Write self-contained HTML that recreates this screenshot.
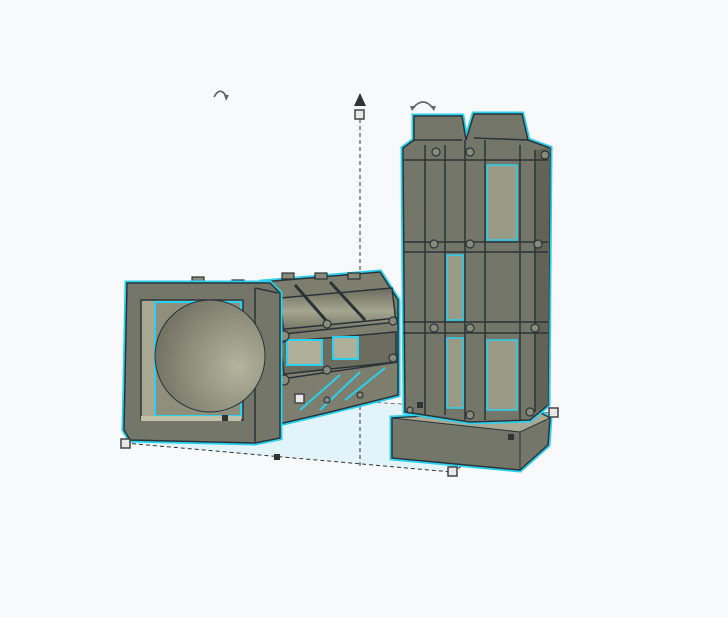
<!DOCTYPE html>
<html><head><meta charset="utf-8"><style>
html,body{margin:0;padding:0;background:#f8f9fa;}
svg{display:block;}
</style></head><body>
<svg width="728" height="617" viewBox="0 0 728 617" xmlns="http://www.w3.org/2000/svg">
<defs>
<radialGradient id="tun" cx="0.75" cy="0.6" r="0.8">
<stop offset="0" stop-color="#b4b59e"/><stop offset="1" stop-color="#6e6f60"/>
</radialGradient>
<linearGradient id="cyl" x1="0" y1="0" x2="0" y2="1">
<stop offset="0" stop-color="#6a6b5d"/><stop offset="0.5" stop-color="#a5a690"/><stop offset="1" stop-color="#6a6b5d"/>
</linearGradient>
</defs>
<rect width="728" height="617" fill="#f8f9fa"/>
<polygon points="125,443 452,472 553,413 300,397" fill="#e3f3fa"/>
<g stroke="#333" stroke-width="1" stroke-dasharray="4,3" fill="none">
<line x1="125" y1="443" x2="452" y2="472"/>
<line x1="452" y1="472" x2="553" y2="413"/>
<line x1="125" y1="443" x2="300" y2="398" stroke="#777"/>
<line x1="300" y1="398" x2="553" y2="413" stroke="#777"/>
<line x1="360" y1="112" x2="360" y2="466"/>
</g>
<!-- cage -->
<g stroke="#2a3438" stroke-width="1.5">
<polygon points="262,282 380,272 398,300 398,395 330,412 275,425" fill="#7d7e6e" stroke="#2ad0f0" stroke-width="5"/>
<polygon points="262,282 380,272 398,300 398,395 330,412 275,425" fill="#7d7e6e"/>
<polygon points="280,298 392,288 396,322 284,334" fill="url(#cyl)"/>
<polygon points="280,342 396,332 396,362 284,374" fill="#6c6d5f"/>
<rect x="287" y="340" width="35" height="25" fill="#b0b09a" stroke="#2ad0f0" stroke-width="2"/>
<rect x="333" y="337" width="25" height="22" fill="#b0b09a" stroke="#2ad0f0" stroke-width="2"/>
<line x1="295" y1="285" x2="330" y2="325" stroke-width="3"/>
<line x1="330" y1="282" x2="365" y2="320" stroke-width="3"/>
<line x1="300" y1="410" x2="340" y2="375" stroke="#2ad0f0" stroke-width="2"/>
<line x1="320" y1="410" x2="360" y2="372" stroke="#2ad0f0" stroke-width="2"/>
<line x1="345" y1="400" x2="385" y2="368" stroke="#2ad0f0" stroke-width="2"/>
<line x1="275" y1="330" x2="398" y2="318"/>
<line x1="275" y1="380" x2="398" y2="362"/>
</g>
<g fill="#8a8b7a" stroke="#2a3438" stroke-width="1.2">
<circle cx="284" cy="336" r="5"/><circle cx="284" cy="380" r="5"/>
<circle cx="327" cy="324" r="4"/><circle cx="327" cy="370" r="4"/>
<circle cx="393" cy="321" r="4"/><circle cx="393" cy="358" r="4"/>
<circle cx="327" cy="400" r="3"/><circle cx="360" cy="395" r="3"/>
<rect x="192" y="277" width="12" height="6"/><rect x="232" y="280" width="12" height="6"/>
<rect x="282" y="273" width="12" height="6"/><rect x="315" y="273" width="12" height="6"/><rect x="348" y="273" width="12" height="6"/>
</g>
<!-- left frame -->
<path d="M127,283 L270,283 L280,293 L280,438 L255,443 L130,440 L124,430 Z" fill="#75766a" stroke="#2ad0f0" stroke-width="5"/>
<path d="M127,283 L270,283 L280,293 L280,438 L255,443 L130,440 L124,430 Z" fill="#75766a" stroke="#2a3438" stroke-width="1.5"/>
<line x1="255" y1="288" x2="255" y2="442" stroke="#2a3438" stroke-width="1.5"/>
<line x1="255" y1="288" x2="278" y2="293" stroke="#2a3438" stroke-width="1.5"/>
<rect x="141" y="300" width="102" height="120" fill="#a9a993" stroke="#2a3438" stroke-width="1.5"/>
<rect x="155" y="302" width="86" height="114" fill="#8e8f7c" stroke="#2ad0f0" stroke-width="2"/>
<ellipse cx="210" cy="356" rx="55" ry="56" fill="url(#tun)" stroke="#2a3438" stroke-width="1"/>
<rect x="141" y="416" width="100" height="5" fill="#c0c0aa"/>
<!-- right base -->
<polygon points="392,418 535,410 550,418 548,445 520,470 392,458" fill="#75766a" stroke="#2ad0f0" stroke-width="5"/>
<polygon points="392,418 535,410 550,418 548,445 520,470 392,458" fill="#75766a" stroke="#2a3438" stroke-width="1.5"/>
<polygon points="392,418 535,410 550,418 520,432" fill="#a9a993" stroke="#2a3438"/>
<line x1="520" y1="432" x2="520" y2="470" stroke="#2a3438"/>
<!-- column -->
<path d="M414,116 L462,116 L466,140 L474,114 L522,114 L528,140 L550,148 L548,405 L530,420 L470,422 L405,412 L403,148 L414,140 Z" fill="#75766a" stroke="#2ad0f0" stroke-width="5"/>
<path d="M414,116 L462,116 L466,140 L474,114 L522,114 L528,140 L550,148 L548,405 L530,420 L470,422 L405,412 L403,148 L414,140 Z" fill="#75766a" stroke="#2a3438" stroke-width="1.5"/>
<polygon points="535,150 550,148 548,405 535,412" fill="#626356"/>
<g stroke="#2a3438" stroke-width="1.5" fill="none">
<line x1="403" y1="160" x2="548" y2="160"/><line x1="403" y1="242" x2="548" y2="242"/><line x1="403" y1="252" x2="548" y2="252"/>
<line x1="403" y1="322" x2="548" y2="322"/><line x1="403" y1="333" x2="548" y2="333"/>
<line x1="425" y1="145" x2="425" y2="415"/><line x1="445" y1="145" x2="445" y2="415"/>
<line x1="465" y1="140" x2="465" y2="420"/><line x1="485" y1="140" x2="485" y2="420"/>
<line x1="520" y1="145" x2="520" y2="420"/><line x1="535" y1="150" x2="535" y2="412"/>
<line x1="414" y1="140" x2="462" y2="140"/><line x1="474" y1="138" x2="528" y2="140"/>
</g>
<g fill="#9a9b86" stroke="#2ad0f0" stroke-width="1.5">
<rect x="447" y="255" width="16" height="65"/><rect x="447" y="338" width="16" height="70"/>
<rect x="487" y="165" width="30" height="75"/><rect x="487" y="340" width="30" height="70"/>
</g>
<g fill="#8a8b7a" stroke="#2a3438" stroke-width="1.2">
<circle cx="436" cy="152" r="4"/><circle cx="470" cy="152" r="4"/><circle cx="545" cy="155" r="4"/>
<circle cx="434" cy="244" r="4"/><circle cx="470" cy="244" r="4"/><circle cx="538" cy="244" r="4"/>
<circle cx="434" cy="328" r="4"/><circle cx="470" cy="328" r="4"/><circle cx="535" cy="328" r="4"/>
<circle cx="470" cy="415" r="4"/><circle cx="530" cy="412" r="4"/><circle cx="410" cy="410" r="3"/>
</g>
<!-- handles -->
<g fill="#e8e8e8" stroke="#444" stroke-width="1.5">
<rect x="355" y="110" width="9" height="9"/><rect x="121" y="439" width="9" height="9"/>
<rect x="448" y="467" width="9" height="9"/><rect x="549" y="408" width="9" height="9"/>
<rect x="295" y="394" width="9" height="9"/>
</g>
<g fill="#333">
<rect x="274" y="454" width="6" height="6"/><rect x="508" y="434" width="6" height="6"/>
<rect x="222" y="415" width="6" height="6"/><rect x="417" y="402" width="6" height="6"/>
<polygon points="360,93 354,106 366,106"/>
</g>
<g fill="none" stroke="#666" stroke-width="1.8">
<path d="M214,97 Q220,86 226,96"/>
<path d="M413,108 Q423,96 433,108"/>
</g>
<g fill="#666"><polygon points="224,95 229,95 226,101"/><polygon points="410,106 416,106 412,111"/><polygon points="430,106 436,106 434,111"/></g>
</svg>
</body></html>
